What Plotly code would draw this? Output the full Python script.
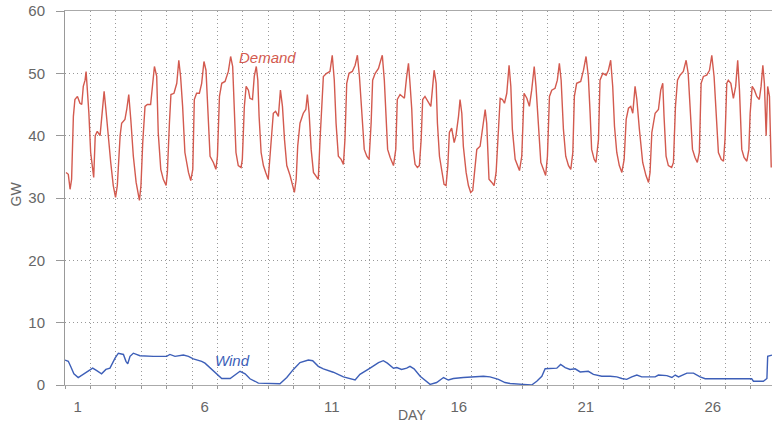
import plotly.graph_objects as go

# ---------------- data ----------------
# time in days since start of day 1, demand in GW
demand_day = [0.04,0.13,0.20,0.26,0.33,0.39,0.49,0.59,0.66,0.72,0.79,0.83,0.88,0.94,1.01,1.08,1.13,1.19,1.27,1.38,1.46,1.54,1.61,1.71,1.80,1.90,1.99,2.06,2.17,2.23,2.36,2.43,2.51,2.59,2.69,2.80,2.93,2.99,3.06,3.15,3.24,3.37,3.45,3.52,3.61,3.67,3.77,3.87,3.98,4.03,4.11,4.17,4.29,4.40,4.48,4.55,4.63,4.72,4.86,4.95,5.03,5.09,5.18,5.29,5.38,5.47,5.55,5.62,5.71,5.84,5.94,6.00,6.08,6.17,6.30,6.43,6.52,6.60,6.65,6.73,6.82,
              6.93,6.98,7.06,7.13,7.22,7.28,7.38,7.45,7.53,7.59,7.64,7.72,7.81,7.90,8.00,8.07,8.14,8.20,8.29,8.40,8.48,8.56,8.64,8.73,8.86,8.95,9.03,9.10,9.16,9.25,9.38,9.48,9.54,9.61,9.69,9.78,9.88,9.97,10.04,10.11,10.17,10.30,10.43,10.52,10.60,10.67,10.76,10.87,10.96,11.02,11.09,11.18,11.31,11.42,11.51,11.59,11.68,11.78,11.88,11.97,12.05,12.11,12.21,12.34,12.43,12.49,12.57,12.63,12.70,12.80,12.93,13.02,13.08,13.19,13.29,13.36,13.45,13.52,13.58,13.65,
              13.71,13.78,13.87,13.95,14.02,14.08,14.17,14.30,14.40,14.46,14.53,14.61,14.66,14.74,14.83,14.92,15.00,15.07,15.13,15.22,15.32,15.39,15.49,15.55,15.62,15.68,15.79,15.88,15.97,16.05,16.12,16.21,16.34,16.44,16.54,16.60,16.69,16.80,16.89,16.97,17.06,17.13,17.22,17.30,17.39,17.48,17.55,17.61,17.72,17.81,17.89,17.98,18.07,18.18,18.28,18.37,18.47,18.54,18.64,18.73,18.83,18.92,18.99,19.07,19.16,19.29,19.38,19.46,19.53,19.62,19.71,19.82,19.91,19.99,20.05,20.14,20.30,20.41,20.51,20.60,
              20.67,20.73,20.83,20.90,21.00,21.06,21.17,21.30,21.39,21.48,21.56,21.63,21.72,21.82,21.92,22.01,22.09,22.18,22.27,22.35,22.44,22.51,22.61,22.74,22.87,22.97,23.03,23.10,23.23,23.36,23.45,23.53,23.58,23.66,23.75,23.88,23.95,24.03,24.11,24.21,24.34,24.45,24.53,24.61,24.70,24.80,24.89,24.97,25.04,25.13,25.26,25.37,25.46,25.55,25.63,25.72,25.83,25.92,25.98,26.05,26.11,26.21,26.31,26.40,26.48,26.55,26.64,26.73,26.84,26.92,26.97,27.05,27.14,27.23,27.33,27.40,27.47,27.53,27.60,27.66,27.73,27.80]
demand_gw = [34.1,33.8,31.4,33.0,43.1,45.8,46.3,45.2,45.0,47.9,48.9,50.3,47.3,43.6,37.3,34.6,33.3,40.0,40.7,40.0,43.1,47.1,44.2,39.4,35.7,32.0,30.1,32.0,40.0,42.0,42.6,44.2,46.6,42.6,36.7,32.5,29.6,32.0,38.9,44.7,45.0,45.0,48.4,51.1,49.5,40.5,34.6,33.0,32.0,34.1,42.0,46.6,46.8,48.4,52.1,49.5,44.7,37.3,34.1,32.8,34.6,45.8,46.8,46.8,48.4,51.9,50.5,44.7,36.7,35.7,34.6,36.7,46.3,48.4,48.7,50.3,52.7,51.1,44.7,37.3,35.2,
             34.9,36.2,44.7,47.9,47.3,46.0,45.8,49.5,51.1,48.9,43.1,37.3,35.2,34.1,33.0,36.7,41.0,43.6,43.9,43.1,47.3,44.7,39.4,35.2,33.6,32.0,30.9,33.0,38.3,42.0,43.6,44.2,46.6,43.6,37.8,34.1,33.6,33.0,39.4,45.8,49.5,50.0,50.3,52.9,48.9,42.0,36.7,36.2,35.4,39.4,48.4,50.0,50.3,51.3,52.9,49.5,43.6,37.8,36.7,36.2,42.0,48.9,50.0,50.8,52.1,52.9,48.9,43.1,37.8,36.5,35.2,37.8,45.8,46.6,46.3,46.0,49.5,51.6,48.4,44.2,
             37.8,35.4,34.9,35.2,39.4,45.8,46.3,45.5,44.7,47.3,50.5,48.4,42.0,36.7,34.1,32.2,32.0,35.2,40.5,41.2,38.9,40.0,43.1,45.8,43.6,38.3,34.1,32.0,30.9,31.2,34.1,37.8,38.3,41.0,44.2,42.0,33.0,32.5,32.0,34.1,42.0,46.0,45.8,45.2,46.8,51.3,47.9,41.0,36.2,35.2,34.4,36.7,46.8,46.0,44.7,47.3,51.1,47.9,41.0,35.7,34.6,33.6,36.7,46.3,47.3,47.6,48.9,51.6,48.9,41.0,36.7,35.2,34.6,37.3,46.3,48.4,48.7,50.5,52.7,49.5,
             43.6,37.8,36.2,35.7,39.4,48.9,50.0,49.7,50.5,52.1,47.9,41.5,37.3,35.2,34.1,36.2,42.6,44.4,44.7,43.6,47.9,45.8,41.0,35.7,33.6,32.5,34.1,40.5,43.6,44.2,47.3,48.4,43.1,36.7,35.2,34.9,35.7,44.7,48.9,49.7,50.3,52.1,50.0,43.6,37.8,36.5,35.7,37.3,48.4,49.5,49.7,50.5,52.9,49.5,43.1,37.3,36.2,35.9,39.4,48.4,48.9,48.4,46.0,47.9,52.1,47.3,37.8,36.5,35.9,37.8,43.6,47.9,47.3,46.3,45.8,47.9,51.3,48.4,40.0,47.9,46.3,34.9]

wind_day = [0.00,0.13,0.22,0.35,0.52,0.72,0.92,1.09,1.25,1.44,1.61,1.77,1.97,2.10,2.30,2.40,2.47,2.56,2.69,2.95,3.48,4.00,4.13,4.33,4.66,4.86,5.05,5.25,5.38,5.51,5.71,5.97,6.17,6.50,6.69,6.89,7.09,7.28,7.48,7.61,
            8.46,8.73,8.99,9.25,9.58,9.75,9.97,10.17,10.56,10.96,11.42,11.61,12.01,12.34,12.53,12.69,12.93,13.06,13.25,13.45,13.58,13.74,13.98,14.17,14.37,14.63,14.90,15.09,15.29,15.68,16.01,16.21,16.47,16.73,17.06,17.32,17.52,
            18.04,18.37,18.57,18.77,18.90,19.09,19.36,19.51,19.69,19.88,20.08,20.28,20.60,20.80,21.13,21.46,21.72,21.92,22.11,22.31,22.51,22.70,23.23,23.36,23.69,23.89,24.02,24.15,24.34,24.48,24.74,25.00,25.20,25.92,27.03,27.10,27.49,27.63,27.66,27.83]
wind_gw = [4.0,3.8,3.0,1.8,1.2,1.7,2.2,2.7,2.3,1.8,2.5,2.7,4.3,5.1,4.9,3.8,3.4,4.6,5.1,4.7,4.6,4.6,4.9,4.6,4.8,4.6,4.2,4.0,3.8,3.5,2.8,1.8,1.05,1.05,1.6,2.2,1.8,1.0,0.6,0.3,
           0.2,1.2,2.5,3.6,4.0,3.9,3.0,2.6,2.05,1.3,0.8,1.7,2.7,3.6,3.9,3.5,2.7,2.8,2.5,2.7,3.0,2.6,1.4,0.7,0.1,0.4,1.2,0.8,1.05,1.2,1.3,1.4,1.4,1.3,0.9,0.4,0.25,
           0.1,0.0,0.6,1.4,2.6,2.6,2.7,3.3,2.8,2.5,2.6,2.1,2.2,1.7,1.4,1.4,1.3,1.05,0.9,1.3,1.6,1.3,1.3,1.6,1.5,1.2,1.6,1.3,1.7,1.9,1.9,1.3,1.0,1.0,1.0,0.6,0.6,1.05,4.6,4.8]

tick_days = [0.5, 5.5, 10.5, 15.5, 20.5, 25.5]
tick_labels = ["1", "6", "11", "16", "21", "26"]

DEMAND_COLOR = "#d35a4f"
WIND_COLOR = "#3d5fb8"
GRID = "#999999"
GRID_DASH = "1px,3px"
TEXT = "#666666"
FONT = "Liberation Sans, Arial, sans-serif"

fig = go.Figure()
fig.add_trace(go.Scatter(x=demand_day, y=demand_gw, mode="lines", cliponaxis=False,
                         line=dict(color=DEMAND_COLOR, width=1.4), showlegend=False))
fig.add_trace(go.Scatter(x=wind_day, y=wind_gw, mode="lines", cliponaxis=False,
                         line=dict(color=WIND_COLOR, width=1.4), showlegend=False))

fig.add_annotation(x=7.99, y=52.6, text="<i>Demand</i>", showarrow=False,
                   font=dict(family=FONT, size=15, color=DEMAND_COLOR))
fig.add_annotation(x=6.61, y=4.0, text="<i>Wind</i>", showarrow=False,
                   font=dict(family=FONT, size=15, color=WIND_COLOR))
fig.add_annotation(xref="paper", yref="paper", x=-0.069, y=0.51, text="GW",
                   textangle=-90, showarrow=False, xanchor="center", yanchor="middle",
                   font=dict(family=FONT, size=14, color=TEXT))
fig.add_annotation(xref="paper", yref="paper", x=0.491, y=-0.080, text="DAY",
                   showarrow=False, xanchor="center", yanchor="middle",
                   font=dict(family=FONT, size=14, color=TEXT))

fig.update_layout(
    width=772, height=427,
    margin=dict(l=65, r=0, t=11, b=42, autoexpand=False),
    paper_bgcolor="white", plot_bgcolor="white",
    font=dict(family=FONT, size=14, color=TEXT),
    xaxis=dict(range=[0, 27.83], tickmode="array", tickvals=tick_days,
               ticktext=tick_labels, showgrid=False, ticks="",
               ticklabelstandoff=8, zeroline=False, automargin=False,
               showline=True, linecolor="#aaaaaa", linewidth=1, mirror=True,
               tickfont=dict(size=15, color=TEXT),
               minor=dict(tickmode="linear", tick0=0, dtick=1, showgrid=True,
                          gridcolor=GRID, griddash=GRID_DASH, gridwidth=1,
                          ticks="outside", ticklen=3, tickcolor="#999999")),
    yaxis=dict(range=[0, 60], dtick=10, showgrid=True, gridcolor=GRID,
               griddash=GRID_DASH, gridwidth=1, zeroline=False, automargin=False,
               ticks="outside", ticklen=8, tickcolor="#999999",
               ticklabeloverflow="allow",
               showline=True, linecolor="#999999", linewidth=1,
               tickfont=dict(size=15, color=TEXT), ticklabelstandoff=8),
)

# remove the browser's default 8px body margin so the figure fills the window
fig.write_html("out.html", config={"displayModeBar": False},
               post_script="document.body.style.margin='0';document.body.style.overflow='hidden';")
